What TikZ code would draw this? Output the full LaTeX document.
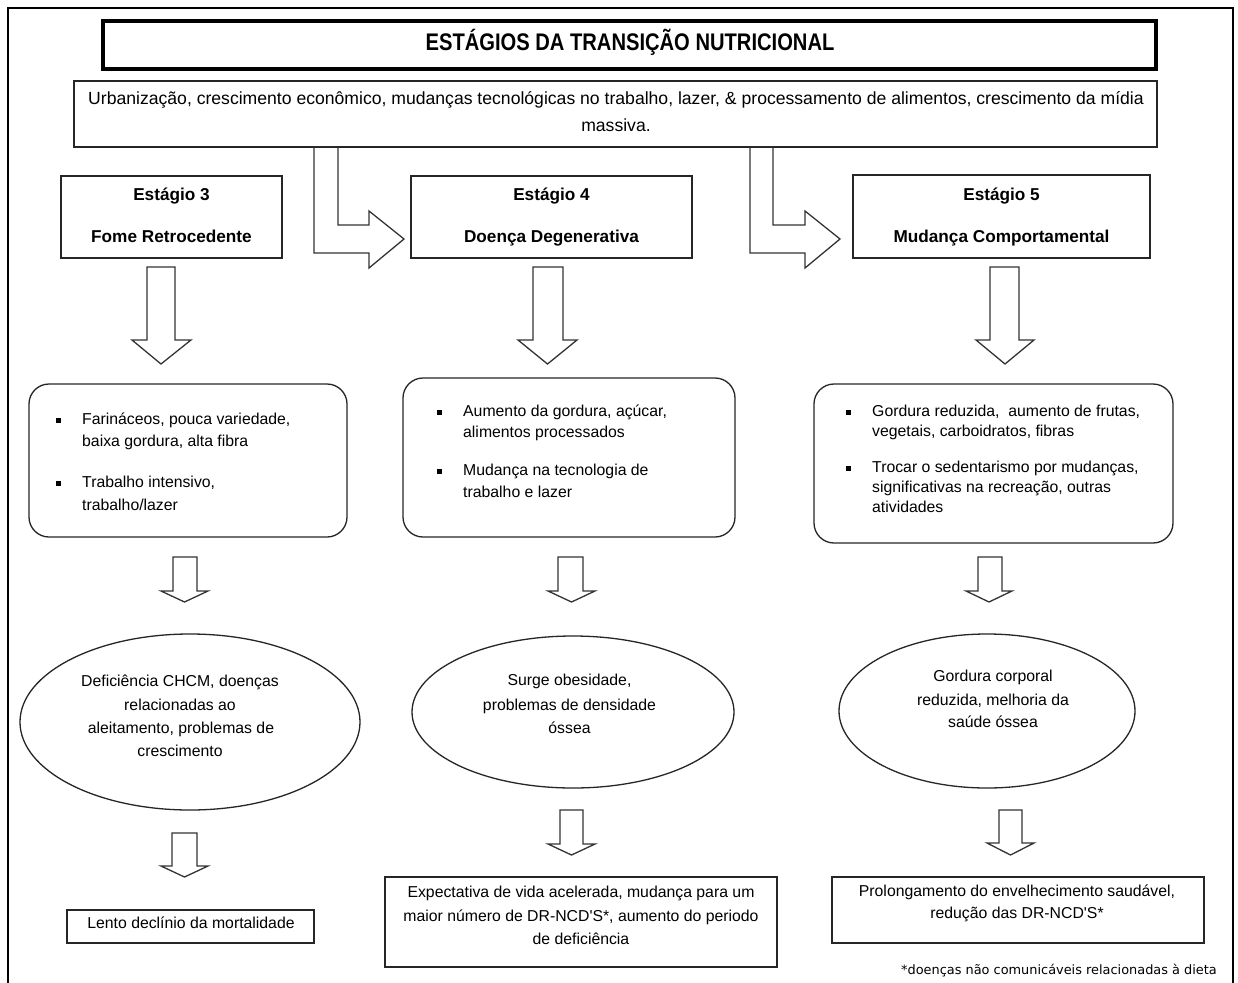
\documentclass[tikz,border=0pt]{standalone}
\usepackage{graphicx}
\usepackage{fontspec}
\setmainfont{Liberation Sans}
\newfontfamily\footfont{DejaVu Sans}
\usetikzlibrary{shapes.geometric}
\newcommand\dnblock[8]{% shaftL shaftR headL headR tipx ytop ybase ytip
  \draw[blockarrow] (#1,#6) -- (#2,#6) -- (#2,#7) -- (#4,#7) -- (#5,#8) -- (#3,#7) -- (#1,#7) -- cycle;}
\tikzset{
  outerframe/.style={line width=2pt, draw=black},
  plainbox/.style={draw=black!85, line width=1.3pt, fill=white, inner sep=0pt, rectangle},
  roundbox/.style={plainbox, rounded corners=20pt},
  ellbox/.style={draw=black!85, line width=1.3pt, ellipse, inner sep=0pt},
  txc/.style={inner sep=0pt, anchor=mid, yshift=-2pt, font=\fontsize{15.8}{19}\selectfont},
  txleft/.style={txc, anchor=mid west},
  subtxt/.style={txc, font=\fontsize{17.6}{21}\selectfont},
  stagetxt/.style={inner sep=0pt, anchor=base, font=\bfseries\fontsize{17.2}{20}\selectfont},
  bulletsq/.style={fill=black, inner sep=0pt, minimum width=4.5pt, minimum height=5pt},
  blockarrow/.style={draw=black!80, line width=1.3pt, fill=white, line join=miter},
}
\begin{document}
\begin{tikzpicture}[x=1pt,y=-1pt]
\useasboundingbox (0,0) rectangle (1238,982);
\fill[white] (0,0) rectangle (1238,982);
% outer frame (open at the bottom)
\draw[outerframe] (8,984) -- (8,8) -- (1233,8) -- (1233,984);

% title
\node[plainbox, draw=black, line width=3.5pt, minimum width=1053pt, minimum height=48pt] (title) at (629.5,45) {};
\node[inner sep=0pt, anchor=base, font=\bfseries\fontsize{24}{28}\selectfont] (titletxt) at (630,51)
  {\scalebox{0.84}[1]{ESTÁGIOS DA TRANSIÇÃO NUTRICIONAL}};

% subtitle
\node[plainbox, minimum width=1083pt, minimum height=66pt] (sub) at (615.5,114) {};
\node[subtxt] (sub1) at (616,100) {Urbanização, crescimento econômico, mudanças tecnológicas no trabalho, lazer, \& processamento de alimentos, crescimento da mídia};
\node[subtxt] (sub2) at (616,127) {massiva.};

% bent block arrows
\draw[blockarrow] (314,147) -- (338,147) -- (338,225) -- (369,225) -- (369,211) -- (404,239) -- (369,268) -- (369,253) -- (314,253) -- cycle;
\draw[blockarrow] (750,147) -- (773,147) -- (773,225) -- (805,225) -- (805,211) -- (840,239) -- (805,268) -- (805,253) -- (750,253) -- cycle;
\draw[draw=black!85, line width=1.3pt] (sub.south west) -- (sub.south east);

% stage boxes
\node[plainbox, minimum width=221pt, minimum height=82pt] (s3) at (171.5,217) {};
\node[plainbox, minimum width=281pt, minimum height=82pt] (s4) at (551.5,217) {};
\node[plainbox, minimum width=297pt, minimum height=83pt] (s5) at (1001.5,216.5) {};
\node[stagetxt] (s3a) at (171.5,200) {Estágio 3};
\node[stagetxt] (s3b) at (171.5,242) {Fome Retrocedente};
\node[stagetxt] (s4a) at (551.5,200) {Estágio 4};
\node[stagetxt] (s4b) at (551.5,242) {Doença Degenerativa};
\node[stagetxt] (s5a) at (1001.5,200) {Estágio 5};
\node[stagetxt] (s5b) at (1001.5,242) {Mudança Comportamental};

% big down arrows
\dnblock{147}{175}{132}{191}{161}{267}{340}{364}
\dnblock{533}{563}{518}{577}{547.5}{267}{340}{364}
\dnblock{990}{1019}{976}{1034}{1005}{267}{340}{364}

% rounded boxes
\node[roundbox, minimum width=318pt, minimum height=153pt] (r3) at (188,460.5) {};
\node[roundbox, minimum width=332pt, minimum height=159pt] (r4) at (569,457.5) {};
\node[roundbox, minimum width=359pt, minimum height=159pt] (r5) at (993.5,463.5) {};

\node[bulletsq] (b31) at (58.5,420) {};
\node[txleft] (r3l1) at (82,420) {Farináceos, pouca variedade,};
\node[txleft] (r3l2) at (82,442) {baixa gordura, alta fibra};
\node[bulletsq] (b32) at (58.5,483) {};
\node[txleft] (r3l3) at (82,483) {Trabalho intensivo,};
\node[txleft] (r3l4) at (82,506) {trabalho/lazer};

\node[bulletsq] (b41) at (439.5,412) {};
\node[txleft] (r4l1) at (463,412) {Aumento da gordura, açúcar,};
\node[txleft] (r4l2) at (463,433) {alimentos processados};
\node[bulletsq] (b42) at (439.5,471) {};
\node[txleft] (r4l3) at (463,471) {Mudança na tecnologia de};
\node[txleft] (r4l4) at (463,493) {trabalho e lazer};

\node[bulletsq] (b51) at (848.5,412) {};
\node[txleft] (r5l1) at (872,412) {Gordura reduzida,\ \ aumento de frutas,};
\node[txleft] (r5l2) at (872,432) {vegetais, carboidratos, fibras};
\node[bulletsq] (b52) at (848.5,468) {};
\node[txleft] (r5l3) at (872,468) {Trocar o sedentarismo por mudanças,};
\node[txleft] (r5l4) at (872,488) {significativas na recreação, outras};
\node[txleft] (r5l5) at (872,508) {atividades};

% middle small arrows
\dnblock{173}{197}{161}{208}{184.5}{557}{591}{602}
\dnblock{558}{583}{548}{595}{571.5}{557}{591}{602}
\dnblock{978}{1002}{966}{1012}{989}{557}{591}{602}

% ellipses
\node[ellbox, minimum width=340pt, minimum height=176pt] (e3) at (190,722) {};
\node[ellbox, minimum width=322pt, minimum height=152pt] (e4) at (573,712) {};
\node[ellbox, minimum width=296pt, minimum height=154pt] (e5) at (987,711) {};

\node[txc] (e3l1) at (180,682) {Deficiência CHCM, doenças};
\node[txc] (e3l2) at (180,706) {relacionadas ao};
\node[txc] (e3l3) at (181,729) {aleitamento, problemas de};
\node[txc] (e3l4) at (180,752) {crescimento};

\node[txc] (e4l1) at (569.5,681) {Surge obesidade,};
\node[txc] (e4l2) at (569.5,706) {problemas de densidade};
\node[txc] (e4l3) at (569.5,729) {óssea};

\node[txc] (e5l1) at (993,677) {Gordura corporal};
\node[txc] (e5l2) at (993,701) {reduzida, melhoria da};
\node[txc] (e5l3) at (993,723) {saúde óssea};

% lower small arrows
\dnblock{172}{197}{161}{208}{184.5}{833}{866}{877}
\dnblock{560}{583}{548}{595}{571.5}{810}{844}{855}
\dnblock{999}{1022}{987}{1034}{1010.5}{810}{843}{855}

% bottom boxes
\node[plainbox, minimum width=247pt, minimum height=33pt] (f3) at (190.5,926.5) {};
\node[txc] (f3l1) at (191,924) {Lento declínio da mortalidade};

\node[plainbox, minimum width=392pt, minimum height=90pt] (f4) at (581,922) {};
\node[txc] (f4l1) at (581,893) {Expectativa de vida acelerada, mudança para um};
\node[txc] (f4l2) at (581,917) {maior número de DR-NCD\textquotesingle S*, aumento do periodo};
\node[txc] (f4l3) at (581,940) {de deficiência};

\node[plainbox, minimum width=372pt, minimum height=66pt] (f5) at (1018,910) {};
\node[txc] (f5l1) at (1017,892) {Prolongamento do envelhecimento saudável,};
\node[txc] (f5l2) at (1017,914) {redução das DR-NCD\textquotesingle S*};

% footnote
\node[inner sep=0pt, anchor=mid east, font=\footfont\fontsize{12.9}{15}\selectfont] (foot) at (1217,972) {*doenças não comunicáveis relacionadas à dieta};
\end{tikzpicture}
\end{document}
